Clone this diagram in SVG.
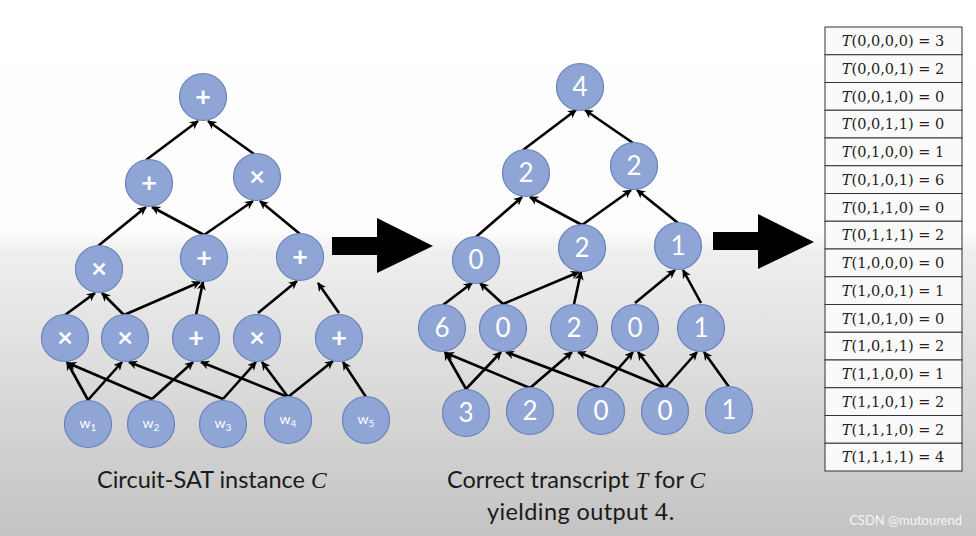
<svg xmlns="http://www.w3.org/2000/svg" width="976" height="536" viewBox="0 0 976 536">
<defs>
<linearGradient id="bg" x1="0" y1="0" x2="0" y2="1">
<stop offset="0" stop-color="#ffffff"/>
<stop offset="0.43" stop-color="#fdfdfd"/>
<stop offset="0.47" stop-color="#efefef"/>
<stop offset="1" stop-color="#c3c3c3"/>
</linearGradient>
<marker id="ah" viewBox="0 0 10 10" refX="9" refY="5" markerWidth="9" markerHeight="9" markerUnits="userSpaceOnUse" orient="auto">
<path d="M0,0 L10,5 L0,10 L3,5 Z" fill="#000"/>
</marker>
<style>
.n circle{fill:#8fa5d6;stroke:#6a80b8;stroke-width:1.2}
.n text{fill:#fff;font-family:Lato,"Open Sans",sans-serif;text-anchor:middle}
.num{font-size:26px}
.op{font-size:27px;font-weight:bold}
.w{font-size:14px}
.sub{font-size:10px}
.e line{stroke:#000;stroke-width:2.6;marker-end:url(#ah)}
.cap{font-family:Lato,"Open Sans",sans-serif;font-size:23.5px;fill:#1a1a1a}
.mi{font-family:"Liberation Serif",serif;font-style:italic}
.tb rect{fill:#fafafa;stroke:#333;stroke-width:1}
.tb text{font-family:"DejaVu Serif",serif;font-size:14.5px;fill:#222;text-anchor:middle}
</style>
</defs>
<rect width="976" height="536" fill="url(#bg)"/>

<!-- left circuit connectors -->
<g id="edges-left" class="e">
<line x1="146" y1="160" x2="198" y2="121"/>
<line x1="254" y1="154" x2="208" y2="121"/>
<line x1="98" y1="246" x2="146" y2="207"/>
<line x1="204" y1="235" x2="152" y2="207"/>
<line x1="204" y1="235" x2="253" y2="201"/>
<line x1="300" y1="234" x2="260" y2="201"/>
<line x1="65" y1="315" x2="95" y2="293"/>
<line x1="124" y1="315" x2="102" y2="293"/>
<line x1="124" y1="315" x2="200" y2="282"/>
<line x1="196" y1="315" x2="203" y2="282"/>
<line x1="258" y1="313" x2="297" y2="281"/>
<line x1="339" y1="313" x2="318" y2="283"/>
<line x1="88" y1="400" x2="67" y2="362"/>
<line x1="88" y1="400" x2="122" y2="362"/>
<line x1="152" y1="399" x2="68" y2="363"/>
<line x1="152" y1="399" x2="193" y2="362"/>
<line x1="223" y1="399" x2="129" y2="362"/>
<line x1="223" y1="399" x2="256" y2="362"/>
<line x1="288" y1="397" x2="201" y2="362"/>
<line x1="288" y1="397" x2="262" y2="362"/>
<line x1="288" y1="397" x2="333" y2="361"/>
<line x1="366" y1="397" x2="343" y2="362"/>
</g>

<!-- middle circuit connectors -->
<g id="edges-mid" class="e">
<line x1="523" y1="150" x2="576" y2="110"/>
<line x1="633" y1="143" x2="585" y2="110"/>
<line x1="476" y1="237" x2="522" y2="197"/>
<line x1="582" y1="225" x2="530" y2="197"/>
<line x1="582" y1="225" x2="631" y2="190"/>
<line x1="678" y1="223" x2="637" y2="190"/>
<line x1="443" y1="305" x2="472" y2="283"/>
<line x1="503" y1="304" x2="480" y2="283"/>
<line x1="503" y1="304" x2="579" y2="272"/>
<line x1="574" y1="304" x2="581" y2="272"/>
<line x1="635" y1="303" x2="675" y2="270"/>
<line x1="701" y1="303" x2="683" y2="270"/>
<line x1="466" y1="389" x2="445" y2="352"/>
<line x1="466" y1="389" x2="501" y2="352"/>
<line x1="530" y1="388" x2="446" y2="353"/>
<line x1="530" y1="388" x2="572" y2="352"/>
<line x1="601" y1="388" x2="506" y2="352"/>
<line x1="601" y1="388" x2="633" y2="352"/>
<line x1="665" y1="388" x2="578" y2="352"/>
<line x1="665" y1="388" x2="638" y2="352"/>
<line x1="665" y1="388" x2="697" y2="352"/>
<line x1="729" y1="387" x2="704" y2="352"/>
</g>

<!-- left circuit nodes -->
<g id="L0" class="n"><circle cx="203" cy="97" r="23.5"/><text class="op" x="203" y="106">+</text></g>
<g id="L1" class="n"><circle cx="149" cy="183" r="23.5"/><text class="op" x="149" y="192">+</text></g>
<g id="L2" class="n"><circle cx="257" cy="177" r="23.5"/><text class="op" x="257" y="186">×</text></g>
<g id="L3" class="n"><circle cx="99" cy="269" r="23.5"/><text class="op" x="99" y="278">×</text></g>
<g id="L4" class="n"><circle cx="204" cy="258" r="23.5"/><text class="op" x="204" y="267">+</text></g>
<g id="L5" class="n"><circle cx="300" cy="257" r="23.5"/><text class="op" x="300" y="266">+</text></g>
<g id="L6" class="n"><circle cx="65" cy="338" r="23.5"/><text class="op" x="65" y="347">×</text></g>
<g id="L7" class="n"><circle cx="125" cy="338" r="23.5"/><text class="op" x="125" y="347">×</text></g>
<g id="L8" class="n"><circle cx="196" cy="338" r="23.5"/><text class="op" x="196" y="347">+</text></g>
<g id="L9" class="n"><circle cx="257" cy="338" r="23.5"/><text class="op" x="257" y="347">×</text></g>
<g id="L10" class="n"><circle cx="339" cy="338" r="23.5"/><text class="op" x="339" y="347">+</text></g>
<g id="W1" class="n"><circle cx="88" cy="424" r="23.5"/><text class="w" x="88" y="428">w<tspan class="sub" dy="3">1</tspan></text></g>
<g id="W2" class="n"><circle cx="151" cy="424" r="23.5"/><text class="w" x="151" y="428">w<tspan class="sub" dy="3">2</tspan></text></g>
<g id="W3" class="n"><circle cx="223" cy="424" r="23.5"/><text class="w" x="223" y="428">w<tspan class="sub" dy="3">3</tspan></text></g>
<g id="W4" class="n"><circle cx="288" cy="420" r="23.5"/><text class="w" x="288" y="424">w<tspan class="sub" dy="3">4</tspan></text></g>
<g id="W5" class="n"><circle cx="366" cy="420" r="23.5"/><text class="w" x="366" y="424">w<tspan class="sub" dy="3">5</tspan></text></g>

<!-- middle circuit nodes -->
<g id="M0" class="n"><circle cx="580" cy="87" r="23.5"/><text class="num" x="580" y="96">4</text></g>
<g id="M1" class="n"><circle cx="526" cy="173" r="23.5"/><text class="num" x="526" y="182">2</text></g>
<g id="M2" class="n"><circle cx="634" cy="166" r="23.5"/><text class="num" x="634" y="175">2</text></g>
<g id="M3" class="n"><circle cx="476" cy="260" r="23.5"/><text class="num" x="476" y="269">0</text></g>
<g id="M4" class="n"><circle cx="582" cy="248" r="23.5"/><text class="num" x="582" y="257">2</text></g>
<g id="M5" class="n"><circle cx="678" cy="246" r="23.5"/><text class="num" x="678" y="255">1</text></g>
<g id="M6" class="n"><circle cx="442" cy="328" r="23.5"/><text class="num" x="442" y="337">6</text></g>
<g id="M7" class="n"><circle cx="503" cy="328" r="23.5"/><text class="num" x="503" y="337">0</text></g>
<g id="M8" class="n"><circle cx="574" cy="328" r="23.5"/><text class="num" x="574" y="337">2</text></g>
<g id="M9" class="n"><circle cx="635" cy="328" r="23.5"/><text class="num" x="635" y="337">0</text></g>
<g id="M10" class="n"><circle cx="701" cy="328" r="23.5"/><text class="num" x="701" y="337">1</text></g>
<g id="I1" class="n"><circle cx="466" cy="413" r="23.5"/><text class="num" x="466" y="422">3</text></g>
<g id="I2" class="n"><circle cx="530" cy="411" r="23.5"/><text class="num" x="530" y="420">2</text></g>
<g id="I3" class="n"><circle cx="601" cy="411" r="23.5"/><text class="num" x="601" y="420">0</text></g>
<g id="I4" class="n"><circle cx="665" cy="411" r="23.5"/><text class="num" x="665" y="420">0</text></g>
<g id="I5" class="n"><circle cx="729" cy="410" r="23.5"/><text class="num" x="729" y="419">1</text></g>

<!-- big arrows -->
<g id="arrow1"><path d="M332,237 H377 V218 L433,246 L377,273 V255 H332 Z" fill="#000"/></g>
<g id="arrow2"><path d="M713,232 H758 V214 L814,242 L758,269 V250 H713 Z" fill="#000"/></g>

<!-- table -->
<g id="table" class="tb">
<rect x="825" y="27" width="137" height="27.75"/>
<rect x="825" y="54.75" width="137" height="27.75"/>
<rect x="825" y="82.5" width="137" height="27.75"/>
<rect x="825" y="110.25" width="137" height="27.75"/>
<rect x="825" y="138" width="137" height="27.75"/>
<rect x="825" y="165.75" width="137" height="27.75"/>
<rect x="825" y="193.5" width="137" height="27.75"/>
<rect x="825" y="221.25" width="137" height="27.75"/>
<rect x="825" y="249" width="137" height="27.75"/>
<rect x="825" y="276.75" width="137" height="27.75"/>
<rect x="825" y="304.5" width="137" height="27.75"/>
<rect x="825" y="332.25" width="137" height="27.75"/>
<rect x="825" y="360" width="137" height="27.75"/>
<rect x="825" y="387.75" width="137" height="27.75"/>
<rect x="825" y="415.5" width="137" height="27.75"/>
<rect x="825" y="443.25" width="137" height="27.75"/>
<text x="893" y="46"><tspan font-style="italic">T</tspan>(0,0,0,0) = 3</text>
<text x="893" y="73.75"><tspan font-style="italic">T</tspan>(0,0,0,1) = 2</text>
<text x="893" y="101.5"><tspan font-style="italic">T</tspan>(0,0,1,0) = 0</text>
<text x="893" y="129.25"><tspan font-style="italic">T</tspan>(0,0,1,1) = 0</text>
<text x="893" y="157"><tspan font-style="italic">T</tspan>(0,1,0,0) = 1</text>
<text x="893" y="184.75"><tspan font-style="italic">T</tspan>(0,1,0,1) = 6</text>
<text x="893" y="212.5"><tspan font-style="italic">T</tspan>(0,1,1,0) = 0</text>
<text x="893" y="240.25"><tspan font-style="italic">T</tspan>(0,1,1,1) = 2</text>
<text x="893" y="268"><tspan font-style="italic">T</tspan>(1,0,0,0) = 0</text>
<text x="893" y="295.75"><tspan font-style="italic">T</tspan>(1,0,0,1) = 1</text>
<text x="893" y="323.5"><tspan font-style="italic">T</tspan>(1,0,1,0) = 0</text>
<text x="893" y="351.25"><tspan font-style="italic">T</tspan>(1,0,1,1) = 2</text>
<text x="893" y="379"><tspan font-style="italic">T</tspan>(1,1,0,0) = 1</text>
<text x="893" y="406.75"><tspan font-style="italic">T</tspan>(1,1,0,1) = 2</text>
<text x="893" y="434.5"><tspan font-style="italic">T</tspan>(1,1,1,0) = 2</text>
<text x="893" y="462.25"><tspan font-style="italic">T</tspan>(1,1,1,1) = 4</text>
</g>

<!-- captions -->
<text class="cap" x="97" y="488">Circuit-SAT instance <tspan class="mi">C</tspan></text>
<text class="cap" x="447" y="488">Correct transcript <tspan class="mi">T</tspan> for <tspan class="mi">C</tspan></text>
<text class="cap" x="487" y="520" font-size="25" letter-spacing="0.4">yielding output <tspan font-family="Liberation Serif, serif" font-size="26">4.</tspan></text>
<text x="962" y="525" text-anchor="end" font-family="Lato, sans-serif" font-size="13" fill="#f5f5f5">CSDN @mutourend</text>
</svg>
